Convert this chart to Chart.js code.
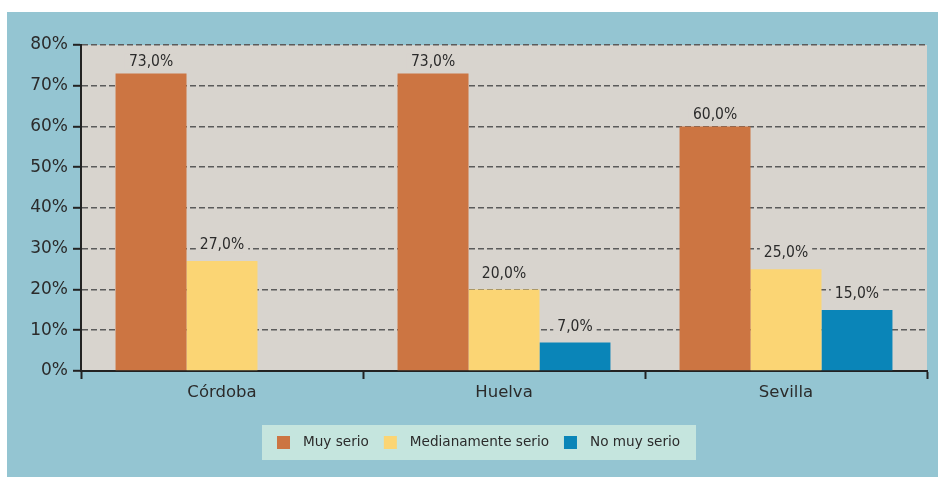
<!DOCTYPE html>
<html>
<head>
<meta charset="utf-8">
<script src="https://cdn.jsdelivr.net/npm/chart.js@4/dist/chart.umd.min.js"></script>
<style>
  html, body { margin: 0; padding: 0; background: #ffffff; }
  #wrap { width: 938px; height: 477px; }
</style>
</head>
<body>
<div id="wrap"><canvas id="c" width="938" height="477"></canvas></div>
<script>
// Provincias y porcentajes por nivel de gravedad percibida
const provincias = ['Córdoba', 'Huelva', 'Sevilla'];
const muySerio = [73, 73, 60];
const medianamenteSerio = [27, 20, 25];
const noMuySerio = [null, 7, 15];
const serieNombres = ['Muy serio', 'Medianamente serio', 'No muy serio'];
const yTicks = [0, 10, 20, 30, 40, 50, 60, 70, 80];

const FONT = '"DejaVu Sans", Verdana, sans-serif';
const FONT_COND = '"DejaVu Sans Condensed", "DejaVu Sans", sans-serif';
const TEXT = '#2b2b2b';
const COLORS = ['#cc7542', '#fbd574', '#0a85b8'];

const fmt = v => v.toFixed(1).replace('.', ',') + '%';

// Fondo general y área de trazado
const fondo = {
  id: 'fondo',
  beforeDraw(chart) {
    const { ctx, chartArea: a } = chart;
    ctx.save();
    ctx.fillStyle = '#ffffff';
    ctx.fillRect(0, 0, chart.width, chart.height);
    ctx.fillStyle = '#94c5d2';
    ctx.fillRect(7, 12, chart.width - 7, chart.height - 12);
    ctx.fillStyle = '#d8d4ce';
    ctx.fillRect(a.left, a.top, a.right - a.left, a.bottom - a.top);
    ctx.restore();
  }
};

// Etiquetas de valor sobre cada barra, con fondo que tapa la rejilla
const etiquetas = {
  id: 'etiquetas',
  afterDatasetsDraw(chart) {
    const { ctx } = chart;
    ctx.save();
    ctx.font = '15.5px ' + FONT_COND;
    ctx.textAlign = 'center';
    ctx.textBaseline = 'middle';
    chart.data.datasets.forEach((ds, i) => {
      const meta = chart.getDatasetMeta(i);
      meta.data.forEach((bar, j) => {
        const v = ds.data[j];
        if (v === null || v === undefined) return;
        const txt = fmt(v);
        const w = ctx.measureText(txt).width;
        const cy = bar.y - ds.labelOffset;
        ctx.fillStyle = '#d8d4ce';
        ctx.fillRect(bar.x - w / 2 - 4, cy - 8, w + 8, 16);
        ctx.fillStyle = TEXT;
        ctx.fillText(txt, bar.x, cy);
      });
    });
    ctx.restore();
  }
};

// Leyenda en recuadro bajo el gráfico
const leyenda = {
  id: 'leyenda',
  afterDraw(chart) {
    const { ctx } = chart;
    const box = { x: 262, y: 425, w: 434, h: 35 };
    ctx.save();
    ctx.fillStyle = '#c5e5de';
    ctx.fillRect(box.x, box.y, box.w, box.h);
    ctx.font = '13.6px ' + FONT;
    ctx.textBaseline = 'middle';
    ctx.textAlign = 'left';
    let x = box.x + 15;
    const cy = box.y + box.h / 2;
    chart.data.datasets.forEach(ds => {
      ctx.fillStyle = ds.backgroundColor;
      ctx.fillRect(x, cy - 6.5, 13, 13);
      x += 26;
      ctx.fillStyle = TEXT;
      ctx.fillText(ds.label, x, cy);
      x += ctx.measureText(ds.label).width + 15;
    });
    ctx.restore();
  }
};

new Chart(document.getElementById('c'), {
  type: 'bar',
  data: {
    labels: provincias,
    datasets: [
      { label: serieNombres[0], data: muySerio, backgroundColor: COLORS[0], labelOffset: 12 },
      { label: serieNombres[1], data: medianamenteSerio, backgroundColor: COLORS[1], labelOffset: 16 },
      { label: serieNombres[2], data: noMuySerio, backgroundColor: COLORS[2], labelOffset: 16 }
    ]
  },
  options: {
    responsive: false,
    animation: false,
    devicePixelRatio: 1,
    layout: { padding: { left: 0, top: 45, right: 11, bottom: 0 } },
    datasets: { bar: { categoryPercentage: 0.755, barPercentage: 1.0, borderWidth: 0 } },
    plugins: { legend: { display: false }, tooltip: { enabled: false }, title: { display: false } },
    scales: {
      x: {
        afterFit(s) { s.height = 106; },
        grid: { offset: true, drawOnChartArea: false, drawTicks: true, tickLength: 8, tickColor: '#222222', tickWidth: 2 },
        border: { display: true, color: '#222222', width: 2 },
        ticks: { color: TEXT, font: { family: FONT, size: 16.5 }, padding: 4 }
      },
      y: {
        min: 0,
        max: 80,
        afterFit(s) { s.width = 81; },
        afterBuildTicks(s) { s.ticks = yTicks.map(v => ({ value: v })); },
        grid: { color: '#5b5b5b', lineWidth: 1.6, drawTicks: true, tickLength: 8, tickColor: '#222222', tickWidth: 2 },
        border: { display: true, color: '#222222', width: 2, dash: [6, 3] },
        ticks: { color: TEXT, font: { family: FONT, size: 17 }, padding: 5, callback: v => v + '%' }
      }
    }
  },
  plugins: [fondo, etiquetas, leyenda]
});
</script>
</body>
</html>
